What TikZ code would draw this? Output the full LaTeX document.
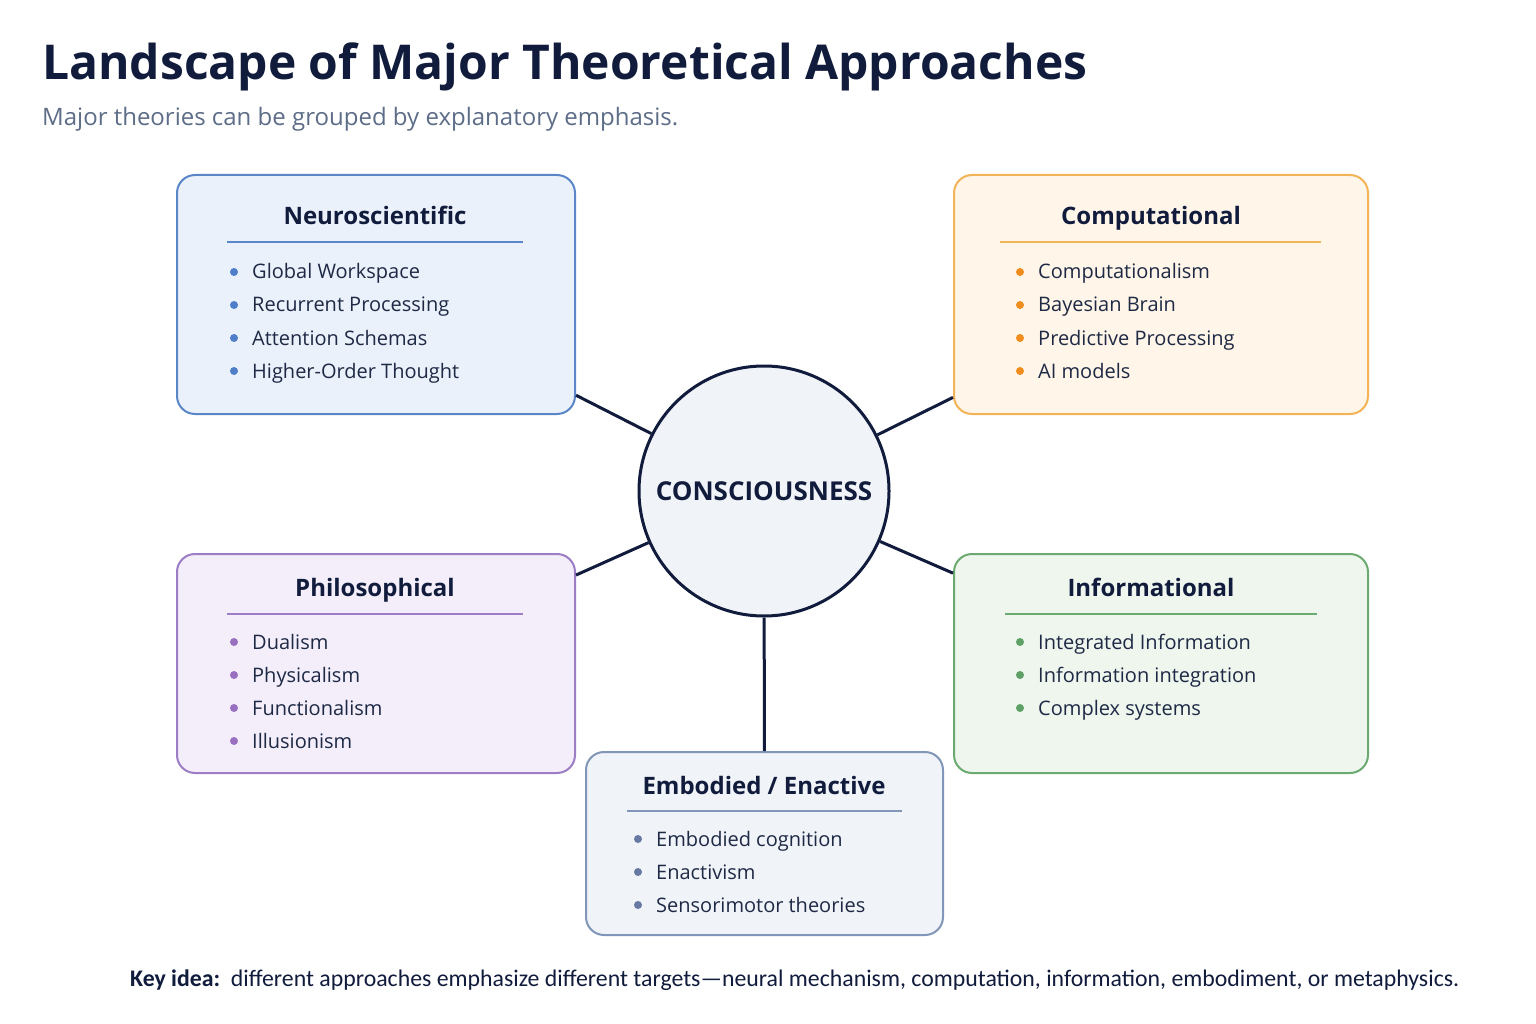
\documentclass[tikz,border=0pt]{standalone}
\usepackage{fontspec}
\setmainfont{Open Sans}
\newfontfamily\notefont{Carlito}
\usetikzlibrary{calc,positioning}
\definecolor{inkdark}{HTML}{111C3D}
\definecolor{inktext}{HTML}{1E2945}
\definecolor{inkgray}{HTML}{5D6D88}
\definecolor{neuroline}{HTML}{5B87C9}
\definecolor{neurofill}{HTML}{EBF1FA}
\definecolor{neurodot}{HTML}{4F7EC8}
\definecolor{compline}{HTML}{F2B456}
\definecolor{compfill}{HTML}{FFF5E8}
\definecolor{compdot}{HTML}{EF8D1E}
\definecolor{philline}{HTML}{9C7DC6}
\definecolor{philfill}{HTML}{F3EEFA}
\definecolor{phildot}{HTML}{9970C0}
\definecolor{infoline}{HTML}{6BAA70}
\definecolor{infofill}{HTML}{EEF6EE}
\definecolor{infodot}{HTML}{5FA066}
\definecolor{embline}{HTML}{8196B8}
\definecolor{embfill}{HTML}{F0F3F8}
\definecolor{embdot}{HTML}{6579A3}

\begin{document}
\begin{tikzpicture}[x=1pt, y=-1pt,
    groupbox/.style={draw=#1line, fill=#1fill, line width=2pt, rounded corners=18pt, inner sep=0pt},
    grouptitle/.style={font=\fontsize{24}{28}\selectfont\bfseries, text=inkdark, inner sep=0pt, anchor=base},
    itemtext/.style={font=\fontsize{20}{24}\selectfont, text=inktext, anchor=base west, inner sep=0pt},
    link/.style={draw=inkdark, line width=3pt}]
  \useasboundingbox (0,0) rectangle (1536,1024);
  \fill[white] (0,0) rectangle (1536,1024);
  % Heading
  \node[anchor=base west, inner sep=0pt, text=inkdark, font=\fontsize{48}{56}\selectfont\bfseries] (title) at (42,80) {Landscape of Major Theoretical Approaches};
  \node[anchor=base west, inner sep=0pt, text=inkgray, font=\fontsize{24}{28}\selectfont] (subtitle) at (42,126) {Major theories can be grouped by explanatory emphasis.};
  % Groups
  \node[groupbox=neuro, minimum width=398pt, minimum height=239pt] (neuro) at (376,294.5) {};
  \node[groupbox=comp, minimum width=414pt, minimum height=239pt] (comp) at (1161,294.5) {};
  \node[groupbox=phil, minimum width=398pt, minimum height=219pt] (phil) at (376,663.5) {};
  \node[groupbox=info, minimum width=414pt, minimum height=219pt] (info) at (1161,663.5) {};
  \node[groupbox=emb, minimum width=357pt, minimum height=183pt] (emb) at (764.5,843.5) {};
  % Centre
  \node[circle, draw=inkdark, fill=embfill, line width=3pt, minimum size=250pt, inner sep=0pt,
        font=\fontsize{26}{30}\selectfont\bfseries, text=inkdark] (core) at (764,491) {CONSCIOUSNESS};
  % Links
  \draw[link] (core) -- (neuro);
  \draw[link] (core) -- (comp);
  \draw[link] (core) -- (phil);
  \draw[link] (core) -- (info);
  \draw[link] (core) -- (emb);
  % Group titles and rules
  \node[grouptitle] (neurotitle) at (375,225) {Neuroscientific};
  \draw[neuroline, line width=1.5pt] (227,242) -- (523,242);
  \node[grouptitle] (comptitle) at (1151,225) {Computational};
  \draw[compline, line width=1.5pt] (1000,242) -- (1321,242);
  \node[grouptitle] (philtitle) at (375,596) {Philosophical};
  \draw[philline, line width=1.5pt] (227,614) -- (523,614);
  \node[grouptitle] (infotitle) at (1151,596) {Informational};
  \draw[infoline, line width=1.5pt] (1005,614) -- (1317,614);
  \node[grouptitle] (embtitle) at (764,794) {Embodied / Enactive};
  \draw[embline, line width=1.5pt] (627,811) -- (902,811);
  % Items
  \foreach \txt [count=\i] in {Global Workspace, Recurrent Processing, Attention Schemas, Higher-Order Thought} {
    \fill[neurodot] (234,{239+33*\i}) circle (4pt);
    \node[itemtext] at (252,{246+33*\i}) {\txt};
  }
  \foreach \txt [count=\i] in {Computationalism, Bayesian Brain, Predictive Processing, AI models} {
    \fill[compdot] (1020,{239+33*\i}) circle (4pt);
    \node[itemtext] at (1038,{246+33*\i}) {\txt};
  }
  \foreach \txt [count=\i] in {Dualism, Physicalism, Functionalism, Illusionism} {
    \fill[phildot] (234,{609+33*\i}) circle (4pt);
    \node[itemtext] at (252,{616+33*\i}) {\txt};
  }
  \foreach \txt [count=\i] in {Integrated Information, Information integration, Complex systems} {
    \fill[infodot] (1020,{609+33*\i}) circle (4pt);
    \node[itemtext] at (1038,{616+33*\i}) {\txt};
  }
  \foreach \txt [count=\i] in {Embodied cognition, Enactivism, Sensorimotor theories} {
    \fill[embdot] (638,{806+33*\i}) circle (4pt);
    \node[itemtext] at (656,{813+33*\i}) {\txt};
  }
  % Footer
  \node[anchor=base west, inner sep=0pt, text=inkdark, font=\notefont\fontsize{23.8}{28}\selectfont] (keyidea) at (130,986)
    {\textbf{Key idea:}\ \ different approaches emphasize different targets—neural mechanism, computation, information, embodiment, or metaphysics.};
\end{tikzpicture}
\end{document}
